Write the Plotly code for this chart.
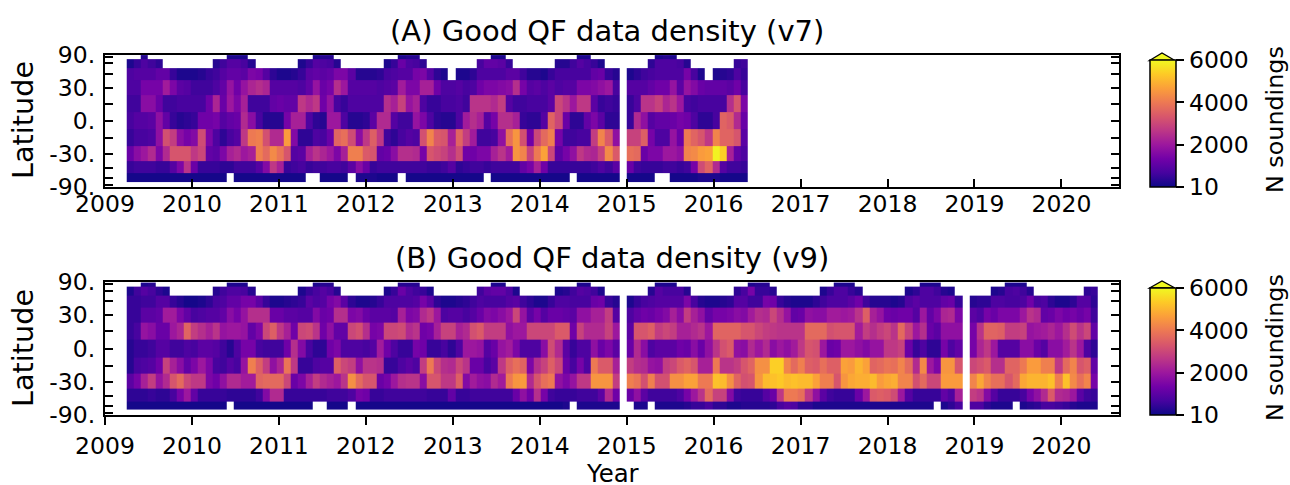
import numpy as np
import plotly.graph_objects as go

_ = None
FONT = "DejaVu Sans"

# soundings per 30 day bin, in hundreds, one list per latitude band
a75 = [_,_,3,_,_,_,_,_,_,_, _,_,_,_,2,2,2,_,_,_, _,_,_,_,_,_,2,3,3,_, _,_,_,_,_,_,_,_,2,3,
       3,_,_,_,_,_,_,_,_,_, _,2,2,_,_,_,_,_,_,_, _,_,_,2,2,_,_,_,_,_, _,_,_,_,2,3,2,_,_,_, _,_,_,_,_,_,_]
a60 = [2,5,8,6,4,_,_,_,_,_, _,_,3,6,9,9,7,3,_,_, _,_,_,_,2,5,9,8,7,3, _,_,_,_,_,_,2,5,12,8,
       7,4,_,_,_,_,_,_,_,7, 11,11,10,5,_,_,_,_,_,_, 3,3,6,9,7,5,2,_,_,_, _,_,_,4,8,8,8,7,3,_, _,_,_,_,_,5,6]
a45 = [8,9,9,9,11,11,5,2,2,2, 3,5,6,9,11,11,10,15,14,9, 4,2,2,3,5,10,11,10,11,15, 15,10,3,3,3,4,7,8,9,9,
       14,15,9,4,2,_,2,2,4,8, 8,8,8,10,10,6,3,3,2,5, 7,7,7,7,7,11,12,5,3,_, 2,4,6,7,8,8,8,8,14,7, 2,_,2,3,4,8,5]
a30 = [8,8,14,14,14,21,15,10,9,6, 6,6,8,11,19,13,19,23,25,23, 9,9,9,9,8,11,19,12,14,25, 20,9,9,9,9,8,9,10,21,15,
       15,22,22,13,8,8,9,7,8,13, 15,15,16,17,25,14,9,10,8,10, 8,9,9,15,15,16,18,20,7,_, 9,9,9,11,13,13,19,10,19,16, 12,11,11,11,10,13,7]
a15 = [6,6,17,17,12,6,6,7,7,7, 7,13,23,12,20,15,22,6,6,6, 11,12,11,11,27,24,27,13,19,7, 5,8,8,8,8,8,25,22,29,19,
       22,8,5,5,7,7,8,6,26,26, 26,24,28,9,6,6,7,7,7,10, 30,26,20,27,27,10,5,6,5,_, 5,8,26,26,29,23,26,20,7,6, 7,7,7,7,25,33,15]
a0 = [7,9,9,10,18,11,5,3,4,5, 13,13,14,9,11,12,24,17,7,3, 3,3,14,22,22,8,4,3,20,20, 8,3,3,4,10,24,24,9,6,6,
      19,15,8,4,3,3,8,21,25,22, 9,14,25,25,22,5,4,4,9,36, 30,12,4,4,11,15,10,4,4,_, 5,24,18,9,11,11,12,14,13,8, 4,4,7,36,34,24,12]
am15 = [5,7,7,8,18,32,28,17,14,16, 31,15,8,4,7,9,27,40,41,32, 24,24,46,16,4,4,8,7,12,36, 38,31,17,27,35,27,6,4,7,9,
        8,32,42,34,33,22,36,28,21,6, 6,7,18,38,45,32,13,30,37,41, 14,6,6,7,7,28,42,34,18,_, 29,29,35,14,8,8,19,12,40,36, 33,27,42,36,36,33,10]
am30 = [12,17,20,24,15,24,33,33,33,27, 30,11,10,15,22,24,20,22,41,37, 43,39,33,9,10,22,26,23,20,15, 22,41,41,34,33,11,12,17,25,25,
        24,14,33,31,29,25,31,13,13,15, 15,22,26,21,45,42,29,40,47,30, 10,14,18,27,24,23,29,43,34,_, 38,37,12,15,15,20,20,18,42,43, 46,47,59,54,22,11,8]
am45 = [5,6,6,6,5,5,9,15,26,12, 5,5,5,4,4,6,6,6,9,16, 27,22,5,6,7,5,6,6,7,7, 6,10,17,12,5,6,6,6,6,6,
        6,6,5,5,6,9,4,5,6,6, 5,6,6,6,6,11,14,22,13,5, 5,5,5,5,5,6,8,6,10,_, 12,6,5,5,5,6,6,5,6,14, 31,36,24,9,6,6,5]
am60 = [1,1,1,1,1,1,1,1,1,1, 1,1,1,1,_,1,1,1,1,1, 1,1,1,1,1,_,_,1,1,1, 1,_,2,2,2,1,1,1,_,1,
        1,1,1,1,1,1,1,1,1,1, _,1,1,1,1,1,1,1,1,1, 1,1,_,1,1,1,1,1,1,_, 1,1,1,1,_,_,1,1,1,1, 2,2,2,1,1,1,1]

b75 = [_,_,2,3,_,_,_,_,_,_, _,_,_,_,2,2,2,_,_,_, _,_,_,_,_,_,2,3,3,_, _,_,_,_,_,_,_,_,3,3,
       3,_,_,_,_,_,_,_,_,_, _,2,2,_,_,_,_,_,_,_, _,_,_,2,2,_,_,_,_,_, _,_,_,_,2,2,2,_,_,_,
       _,_,_,_,_,_,_,2,3,3, _,_,_,_,_,_,_,_,_,2, 2,2,_,_,_,_,_,_,_,_, _,2,2,2,_,_,_,_,_,_,
       _,_,_,2,2,2,_,_,_,_, _,_,_,_,_,_]
b60 = [2,6,9,7,4,2,_,_,_,_, _,_,3,6,8,8,7,3,_,_, _,_,_,_,2,5,7,9,7,3, _,_,_,_,_,_,2,5,12,8,
       6,5,2,_,_,_,_,_,_,6, 10,11,11,8,2,_,_,_,_,_, 2,3,6,9,8,6,2,_,_,_, _,_,_,3,9,7,7,7,3,_,
       _,_,_,_,_,4,7,14,5,5, 3,_,_,_,_,_,_,2,5,8, 8,5,3,_,_,_,_,_,_,2, 4,8,8,6,3,2,_,_,_,_,
       _,2,3,7,8,6,3,_,_,_, _,_,_,_,4,5]
b45 = [5,5,6,6,9,9,5,3,1,1, 2,4,7,8,11,11,14,14,10,5, 2,2,3,4,5,10,8,9,14,16, 10,4,2,2,3,5,8,8,8,8,
       9,14,10,4,2,2,3,4,6,8, 7,7,7,9,10,6,4,2,2,5, 8,8,7,7,7,12,13,5,3,_, 2,5,7,8,9,9,9,9,15,7,
       3,2,2,3,4,9,9,6,6,14, 13,5,3,2,2,2,4,6,8,8, 8,10,13,6,3,3,3,2,3,8, 10,8,8,8,11,12,5,_,3,4,
       4,8,8,7,7,8,13,7,8,4, 2,2,4,9,9,4]
b30 = [5,5,10,10,11,21,21,15,11,7, 8,9,9,11,17,14,19,25,25,25, 12,12,10,10,9,9,16,12,13,25, 25,15,16,12,10,10,10,9,22,15,
       16,24,27,20,8,9,9,7,9,12, 16,15,17,20,30,19,10,14,9,12, 12,11,10,18,18,22,22,28,9,_, 8,11,13,12,14,16,22,17,28,22,
       18,11,14,14,15,17,16,21,25,24, 30,25,19,11,12,18,17,17,21,21, 20,21,26,35,22,19,13,12,13,13, 9,20,11,15,23,24,15,_,10,8,
       14,12,15,15,15,20,26,24,11,12, 15,13,14,12,14,6]
b15 = [5,7,19,17,12,12,20,23,36,28, 25,22,26,19,20,20,19,11,15,30, 35,27,22,13,30,31,26,13,18,11, 11,30,32,25,14,15,30,30,31,24,
       26,13,14,22,29,29,22,24,32,34, 28,28,28,18,20,20,30,30,30,30, 34,34,13,29,24,24,24,29,20,_, 10,33,33,35,28,30,28,22,22,24,
       26,20,36,36,36,36,33,33,30,28, 27,26,26,26,26,37,37,37,32,33, 33,33,21,28,25,28,30,26,37,29, 20,25,12,10,18,18,18,_,14,26,
       36,36,35,28,28,29,19,20,21,23, 20,25,31,26,30,11]
b0 = [3,5,5,6,9,9,6,6,8,7, 10,10,9,6,3,8,14,14,7,6, 6,6,13,25,16,7,4,4,13,15, 8,8,8,7,9,21,13,8,5,5,
      14,13,5,5,7,4,8,20,20,19, 9,12,19,21,15,8,8,8,17,31, 24,10,5,8,8,18,12,15,10,_, 12,24,17,8,10,10,10,13,12,17,
      12,18,26,32,34,18,17,24,20,24, 17,20,18,21,27,33,32,20,12,13, 20,20,18,16,19,19,27,27,29,12, 5,8,4,4,14,8,11,_,14,23,
      27,20,9,9,9,17,17,12,9,17, 17,21,26,20,8,4]
bm15 = [3,7,8,9,13,29,22,17,11,15, 20,15,7,6,9,7,19,41,35,28, 18,23,39,27,5,5,8,9,9,35, 30,28,18,26,26,25,5,5,8,10,
        8,28,40,30,25,24,30,26,12,12, 7,10,27,35,38,36,15,25,29,35, 30,12,7,14,8,40,34,34,22,_, 28,25,24,19,18,28,30,34,36,33,
        22,22,40,26,26,28,33,36,44,44, 54,54,42,37,41,35,34,38,35,35, 47,46,50,47,36,37,39,38,42,37, 24,43,20,15,45,45,33,_,30,32,
        34,25,25,36,36,40,46,46,41,41, 27,37,42,33,35,11]
bm30 = [10,14,22,28,19,24,33,37,30,27, 27,15,13,18,24,24,21,21,36,37, 37,37,30,12,15,22,28,24,22,20, 26,44,37,33,33,12,14,20,25,26,
        26,17,33,33,27,27,35,16,21,18, 17,24,21,40,45,46,24,33,38,40, 18,15,19,27,27,45,45,45,28,_, 41,39,32,41,32,32,44,44,47,47,
        40,40,52,51,44,36,32,33,45,51, 52,53,51,52,51,51,47,41,41,33, 45,48,49,49,51,46,48,49,42,42, 32,37,30,30,46,46,46,_,42,48,
        42,38,38,33,37,48,50,50,50,52, 41,52,43,38,42,14]
bm45 = [4,4,4,5,4,4,7,14,20,11, 5,5,5,5,4,4,4,4,6,16, 24,24,5,5,5,5,5,5,6,6, 6,8,14,13,5,5,6,6,6,6,
        6,6,5,5,5,11,5,5,6,6, 6,6,6,6,12,18,13,25,14,6, 5,5,5,6,6,6,10,24,13,_, 12,18,10,6,6,6,6,8,14,20,
        26,37,29,29,16,6,5,5,5,9, 12,27,40,40,38,27,18,10,6,5, 5,5,12,20,34,35,34,31,20,9, 5,5,5,5,11,8,22,_,28,26,
        16,9,5,5,5,7,14,18,24,34, 24,23,20,10,6,5]
bm60 = [1,1,1,1,1,1,1,1,1,1, 1,1,1,1,_,1,1,1,1,1, 1,1,1,1,1,1,_,_,1,1, 1,_,1,1,1,1,1,1,1,1,
        1,1,1,1,1,1,1,1,1,1, 1,1,1,1,1,1,1,1,1,1, 1,2,_,2,2,2,2,2,2,_, _,2,2,_,2,2,2,2,3,5,
        5,7,4,4,2,2,3,3,3,3, 4,7,9,8,4,4,2,2,2,2, 2,2,2,2,2,2,2,2,2,2, 2,2,2,_,2,4,7,_,8,8,
        4,2,2,2,_,2,3,4,7,7, 6,5,3,2,2,2]

rows_a = [am60, am45, am30, am15, a0, a15, a30, a45, a60, a75]
rows_b = [bm60, bm45, bm30, bm15, b0, b15, b30, b45, b60, b75]
for r in rows_a:
    assert len(r) == 87, len(r)
for r in rows_b:
    assert len(r) == 136, len(r)

lat_edges = [-67.5, -52.5, -37.5, -22.5, -7.5, 7.5, 22.5, 37.5, 52.5, 67.5, 82.5]
lat_ticks = [-90, -75, -60, -45, -30, -15, 0, 15, 30, 45, 60, 75, 90]
lat_labels = ["-90.", "", "", "", "-30.", "", "0.", "", "30.", "", "", "", "90."]
years = list(range(2009, 2021))
cbar_ticks = [10, 2000, 4000, 6000]

W, H = 1290, 485


def px(x):
    return x / W


def py(y):
    return 1 - y / H


def time_edges(n):
    # 30 day bins from April 2009
    return 2009.25 + np.arange(n + 1) * 30 / 365.25


y_edges = np.sin(np.radians(lat_edges))
y_ticks = np.sin(np.radians(lat_ticks))

fig = go.Figure()
fig.add_trace(go.Heatmap(x=time_edges(87), y=y_edges, z=np.array(rows_a, dtype=float) * 100,
                         coloraxis="coloraxis", xaxis="x", yaxis="y", hoverongaps=False))
fig.add_trace(go.Heatmap(x=time_edges(136), y=y_edges, z=np.array(rows_b, dtype=float) * 100,
                         coloraxis="coloraxis2", xaxis="x2", yaxis="y2", hoverongaps=False))


def xaxis(anchor, ticks, standoff):
    return dict(domain=[px(105), px(1119)], range=[2009, 2020.662], anchor=anchor, automargin=False,
                tickvals=years, ticktext=[str(v) for v in years], ticks=ticks, ticklen=8, tickwidth=1.5,
                tickcolor="black", showline=True, linecolor="black", linewidth=1.7, mirror=True,
                showgrid=False, zeroline=False, tickfont=dict(family=FONT, size=23.5, color="black"),
                ticklabelstandoff=standoff)


def yaxis(top, bottom, anchor):
    return dict(domain=[py(bottom), py(top)], range=[-1, 1], anchor=anchor, automargin=False,
                tickvals=y_ticks, ticktext=lat_labels, ticks="inside", ticklen=8, tickwidth=1.5,
                tickcolor="black", showline=True, linecolor="black", linewidth=2.2, mirror="ticks",
                showgrid=False, zeroline=False, tickfont=dict(family=FONT, size=23.5, color="black"),
                ticklabelstandoff=3)


def cbar(top, bottom):
    return dict(colorscale="Plasma", cmin=10, cmax=6000,
                colorbar=dict(x=px(1149.5), xanchor="left", y=py(bottom), yanchor="bottom",
                              lenmode="pixels", len=bottom - top, thicknessmode="pixels", thickness=25.5,
                              xpad=0, ypad=0, outlinewidth=1.5, outlinecolor="black", borderwidth=0,
                              tickvals=cbar_ticks, ticktext=[str(v) for v in cbar_ticks],
                              ticks="outside", ticklen=8, tickwidth=1.5, tickcolor="black",
                              tickfont=dict(family=FONT, size=23.5, color="black")))


def note(text, x, y, size, angle=0):
    return dict(text=text, x=px(x), y=py(y), xref="paper", yref="paper", showarrow=False,
                xanchor="center", yanchor="middle", textangle=angle,
                font=dict(family=FONT, size=size, color="black"))


def arrow(top, tip):
    # the colour bar's extend triangle
    return dict(type="path", xref="paper", yref="paper", fillcolor="#f0f921", layer="above",
                line=dict(color="black", width=1.3),
                path=f"M {px(1149.5)} {py(top)} L {px(1162)} {py(tip)} L {px(1175)} {py(top)} Z")


fig.update_layout(
    width=W, height=H, margin=dict(l=0, r=0, t=0, b=0, autoexpand=False),
    paper_bgcolor="white", plot_bgcolor="white",
    font=dict(family=FONT, color="black"),
    xaxis=xaxis("y", "inside", -5),
    yaxis=yaxis(54.5, 187, "x"),
    xaxis2=xaxis("y2", "outside", 1),
    yaxis2=yaxis(282, 415, "x2"),
    coloraxis=cbar(60.5, 187),
    coloraxis2=cbar(288, 415),
    annotations=[
        note("(A) Good QF data density (v7)", 607, 31, 29),
        note("(B) Good QF data density (v9)", 612, 258, 29),
        note("Latitude", 23, 120, 28.7, -90),
        note("Latitude", 23, 348, 28.7, -90),
        note("Year", 613, 473.5, 24.4),
        note("N soundings", 1275, 120, 23.8, -90),
        note("N soundings", 1275, 348, 23.8, -90),
    ],
    shapes=[arrow(60.5, 53), arrow(288, 281)],
)

fig.write_html("out.html", config={"displayModeBar": False}, post_script="document.body.style.margin='0';")
